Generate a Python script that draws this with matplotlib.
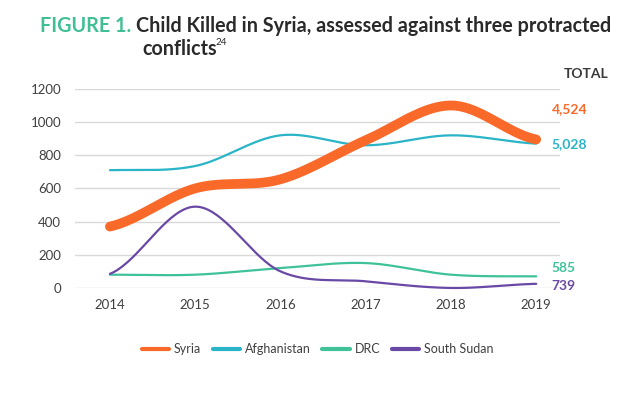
import numpy as np
import matplotlib
matplotlib.use("Agg")
import matplotlib.pyplot as plt

years = [2014, 2015, 2016, 2017, 2018, 2019]
syria = [370, 600, 655, 890, 1100, 895]
afghanistan = [710, 735, 920, 860, 920, 870]
drc = [80, 80, 120, 150, 80, 70]
south_sudan = [85, 490, 100, 40, 0, 25]
totals = ["4,524", "5,028", "585", "739"]
names = ["Syria", "Afghanistan", "DRC", "South Sudan"]

colors = ["#f96a2a", "#2ab4c7", "#3fc29a", "#6a49a6"]
widths = [7, 1.6, 1.6, 1.6]


# smooth curve through the points (like excel "smoothed line")
def smooth(xs, ys, n=40):
    xs = np.asarray(xs, float)
    ys = np.asarray(ys, float)
    px = np.concatenate([[2 * xs[0] - xs[1]], xs, [2 * xs[-1] - xs[-2]]])
    py = np.concatenate([[ys[0]], ys, [ys[-1]]])
    outx, outy = [], []
    for i in range(1, len(px) - 2):
        t = np.linspace(0, 1, n)
        for arr, out in ((px, outx), (py, outy)):
            p0, p1, p2, p3 = arr[i - 1], arr[i], arr[i + 1], arr[i + 2]
            m1 = (p2 - p0) / 2
            m2 = (p3 - p1) / 2
            h00 = 2 * t**3 - 3 * t**2 + 1
            h10 = t**3 - 2 * t**2 + t
            h01 = -2 * t**3 + 3 * t**2
            h11 = t**3 - t**2
            out.extend(h00 * p1 + h10 * m1 + h01 * p2 + h11 * m2)
    return np.array(outx), np.array(outy)


plt.rcParams["font.family"] = ["Lato", "DejaVu Sans"]
fig = plt.figure(figsize=(6.3, 3.95), dpi=100)
ax = fig.add_axes([0.119, 0.271, 0.770, 0.504])

series = [syria, afghanistan, drc, south_sudan]
zs = [5, 3, 2, 4]
for name, vals, c, w, z in zip(names, series, colors, widths, zs):
    sx, sy = smooth(years, vals)
    ax.plot(sx, sy, color=c, lw=w, solid_capstyle="round", zorder=z,
            label=name, clip_on=False)

ax.set_xlim(2013.59, 2019.28)
ax.set_ylim(0, 1200)
ax.set_yticks(range(0, 1201, 200))
ax.set_xticks(years)
ax.grid(axis="y", color="#d9d9d9", lw=1)
ax.set_axisbelow(True)
for s in ax.spines.values():
    s.set_visible(False)
ax.tick_params(length=0, labelsize=9.5, colors="#404040", pad=8)
ax.tick_params(axis="y", pad=10)

# totals on the right
label_y = [1080, 870, 120, 10]
for t, c, yy in zip(totals, colors, label_y):
    ax.text(2019.18, yy, t, color=c, fontsize=10, fontweight="bold",
            va="center", ha="left")
fig.text(0.93, 0.812, "TOTAL", fontsize=10, fontweight="bold",
         color="#3a3a3a", ha="center", va="center")

leg = ax.legend(loc="upper center", bbox_to_anchor=(0.5, -0.22), ncol=4,
                frameon=False, fontsize=9, handlelength=2.2,
                columnspacing=0.9, handletextpad=0.4, labelcolor="#404040")
for h in leg.get_lines():
    h.set_linewidth(3)

# title in two colours
fig.canvas.draw()
r = fig.canvas.get_renderer()
t1 = fig.text(0.063, 0.92, "FIGURE 1.", fontsize=14.2, fontweight="bold",
              color="#3fbf93", va="baseline")
bb = t1.get_window_extent(r)
x2 = (bb.x1 + 5) / fig.bbox.width
fig.text(x2, 0.92, "Child Killed in Syria, assessed against three protracted",
         fontsize=14.2, fontweight="bold", color="#2a2a2a", va="baseline")
t3 = fig.text(x2 + 6 / fig.bbox.width, 0.862, "conflicts", fontsize=14.2,
              fontweight="bold", color="#2a2a2a", va="baseline")
bb3 = t3.get_window_extent(r)
fig.text((bb3.x1 - 1) / fig.bbox.width, 0.885, "24", fontsize=7,
         color="#2a2a2a", va="baseline")

fig.savefig("out.png", dpi=100)
